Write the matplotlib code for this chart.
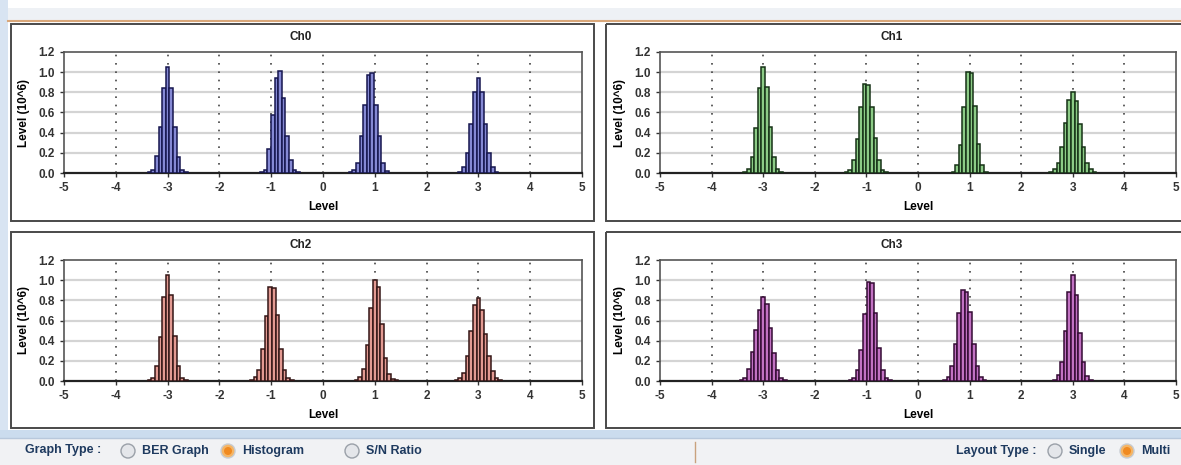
import matplotlib.pyplot as plt
from matplotlib.patches import Rectangle, Circle

W, H = 1181, 465
BW = 0.07  # histogram bin width

channels = ['Ch0', 'Ch1', 'Ch2', 'Ch3']

# centre of the tallest bar of every peak, per channel
ch0_centers = [-3.0, -0.83, 0.95, 3.0]
ch0_heights = [
    [0.01, 0.03, 0.17, 0.46, 0.84, 1.05, 0.84, 0.46, 0.16, 0.03, 0.01],
    [0.01, 0.03, 0.24, 0.58, 0.94, 1.01, 0.74, 0.37, 0.13, 0.03, 0.01],
    [0.01, 0.03, 0.10, 0.37, 0.67, 0.97, 0.99, 0.67, 0.37, 0.10, 0.02],
    [0.01, 0.06, 0.20, 0.49, 0.80, 0.94, 0.80, 0.49, 0.20, 0.06, 0.01],
]
ch1_centers = [-3.0, -1.035, 0.965, 3.0]
ch1_heights = [
    [0.01, 0.04, 0.16, 0.45, 0.84, 1.05, 0.85, 0.46, 0.16, 0.04, 0.01],
    [0.01, 0.03, 0.13, 0.34, 0.65, 0.88, 0.87, 0.65, 0.35, 0.13, 0.03, 0.01],
    [0.01, 0.08, 0.28, 0.65, 1.00, 0.99, 0.66, 0.29, 0.08, 0.01],
    [0.01, 0.04, 0.10, 0.26, 0.50, 0.72, 0.80, 0.71, 0.49, 0.26, 0.10, 0.04, 0.01],
]
ch2_centers = [-3.0, -1.02, 1.0, 3.0]
ch2_heights = [
    [0.01, 0.03, 0.15, 0.44, 0.83, 1.05, 0.85, 0.45, 0.15, 0.03, 0.01],
    [0.01, 0.04, 0.11, 0.32, 0.64, 0.93, 0.92, 0.65, 0.32, 0.11, 0.03, 0.01],
    [0.01, 0.04, 0.12, 0.36, 0.72, 1.00, 0.93, 0.57, 0.23, 0.07, 0.02, 0.01],
    [0.01, 0.03, 0.08, 0.25, 0.50, 0.75, 0.82, 0.70, 0.47, 0.25, 0.10, 0.03, 0.01],
]
ch3_centers = [-3.0, -0.96, 0.87, 3.0]
ch3_heights = [
    [0.01, 0.03, 0.12, 0.29, 0.51, 0.70, 0.83, 0.76, 0.53, 0.28, 0.11, 0.03, 0.01],
    [0.01, 0.03, 0.11, 0.31, 0.66, 0.98, 0.97, 0.67, 0.33, 0.11, 0.03, 0.01],
    [0.01, 0.04, 0.15, 0.37, 0.67, 0.90, 0.88, 0.68, 0.37, 0.15, 0.04, 0.01],
    [0.01, 0.06, 0.19, 0.50, 0.88, 1.05, 0.85, 0.48, 0.19, 0.05, 0.01],
]

face_cols = ['#8589d4', '#8ccb86', '#e39a92', '#c272c3']
edge_cols = ['#16164e', '#163216', '#341616', '#340c34']

x_ticks = [-5, -4, -3, -2, -1, 0, 1, 2, 3, 4, 5]
y_ticks = [0.0, 0.2, 0.4, 0.6, 0.8, 1.0, 1.2]

all_centers = [ch0_centers, ch1_centers, ch2_centers, ch3_centers]
all_heights = [ch0_heights, ch1_heights, ch2_heights, ch3_heights]

plt.rcParams['font.family'] = ['Liberation Sans', 'DejaVu Sans']
fig = plt.figure(figsize=(W / 100, H / 100), dpi=100)
fig.patch.set_facecolor('white')

# background / window chrome in pixel coordinates
bg = fig.add_axes([0, 0, 1, 1], zorder=0)
bg.set_xlim(0, W)
bg.set_ylim(H, 0)
bg.axis('off')
bg.add_patch(Rectangle((0, 8), W, 13, color='#eef1f5', lw=0))
bg.plot([8, W], [21.5, 21.5], color='#d9a77a', lw=1.5)
bg.add_patch(Rectangle((0, 0), 8, 432, color='#d8e4f2', lw=0))
bg.add_patch(Rectangle((0, 430), W, 8, color='#cbdcee', lw=0))
bg.add_patch(Rectangle((0, 438), W, 27, color='#f1f2f4', lw=0))
bg.plot([0, W], [438, 438], color='#b8c8dc', lw=1)

panels = [(11, 24, 594, 221), (606, 24, 1185, 221),
          (11, 232, 594, 428), (606, 232, 1185, 428)]
for (l, t, r, b) in panels:
    bg.add_patch(Rectangle((l, t), r - l, b - t, fill=False, ec='#4a4a4a', lw=1.4))

# toolbar
tc = '#1e3a5f'
bg.text(25, 450, 'Graph Type :', color=tc, fontsize=9, fontweight='bold', va='center')
radios = [(128, 'BER Graph', False), (228, 'Histogram', True), (352, 'S/N Ratio', False),
          (1055, 'Single', False), (1127, 'Multi', True)]
for (cx, lab, sel) in radios:
    bg.add_patch(Circle((cx, 451), 7, fc='#f5b565' if sel else '#e4e6ea',
                        ec='#c8ccd2' if sel else '#9aa0a8', lw=1))
    if sel:
        bg.add_patch(Circle((cx, 451), 4, fc='#f08a20', ec='none'))
    bg.text(cx + 14, 451, lab, color=tc, fontsize=9, fontweight='bold', va='center')
bg.text(956, 451, 'Layout Type :', color=tc, fontsize=9, fontweight='bold', va='center')
bg.plot([695, 695], [442, 462], color='#c9a27e', lw=1)

ax_px = [(64, 52, 582, 173), (660, 52, 1176, 173),
         (64, 260, 582, 381), (660, 260, 1176, 381)]

for i, name in enumerate(channels):
    l, t, r, b = ax_px[i]
    ax = fig.add_axes([l / W, 1 - b / H, (r - l) / W, (b - t) / H], zorder=2)
    for c, hs in zip(all_centers[i], all_heights[i]):
        k = hs.index(max(hs))
        xs = [c + (j - k) * BW for j in range(len(hs))]
        ax.bar(xs, hs, width=BW, color=face_cols[i], edgecolor=edge_cols[i],
               linewidth=1.1, zorder=3)
    ax.set_xlim(-5, 5)
    ax.set_ylim(0, 1.2)
    ax.set_xticks(x_ticks)
    ax.set_xticklabels([str(v) for v in x_ticks])
    ax.set_yticks(y_ticks)
    ax.set_yticklabels(['%.1f' % v for v in y_ticks])
    ax.tick_params(labelsize=8.5, colors='#333333', length=3, width=1)
    for lab in ax.get_xticklabels() + ax.get_yticklabels():
        lab.set_fontweight('bold')
    for v in y_ticks[1:-1]:
        ax.axhline(v, color='#d4d4d4', lw=1.6, zorder=1)
    for v in x_ticks[1:-1]:
        ax.axvline(v, color='#444444', lw=1.2, ls=(0, (1, 4)), zorder=1)
    for s in ax.spines.values():
        s.set_color('#555555')
        s.set_linewidth(1.2)
    ax.spines['bottom'].set_color('#222222')
    ax.spines['bottom'].set_linewidth(1.6)
    ax.set_xlabel('Level', fontsize=8.5, fontweight='bold', labelpad=5)
    ax.set_ylabel('Level (10^6)', fontsize=8.5, fontweight='bold', labelpad=6)
    pl, pt, pr, pb = panels[i]
    bg.text((pl + min(pr, W)) / 2 - 2, pt + 13, name, fontsize=8.5,
            fontweight='bold', ha='center', va='center', color='#222222')

fig.savefig('out.png', dpi=100)
